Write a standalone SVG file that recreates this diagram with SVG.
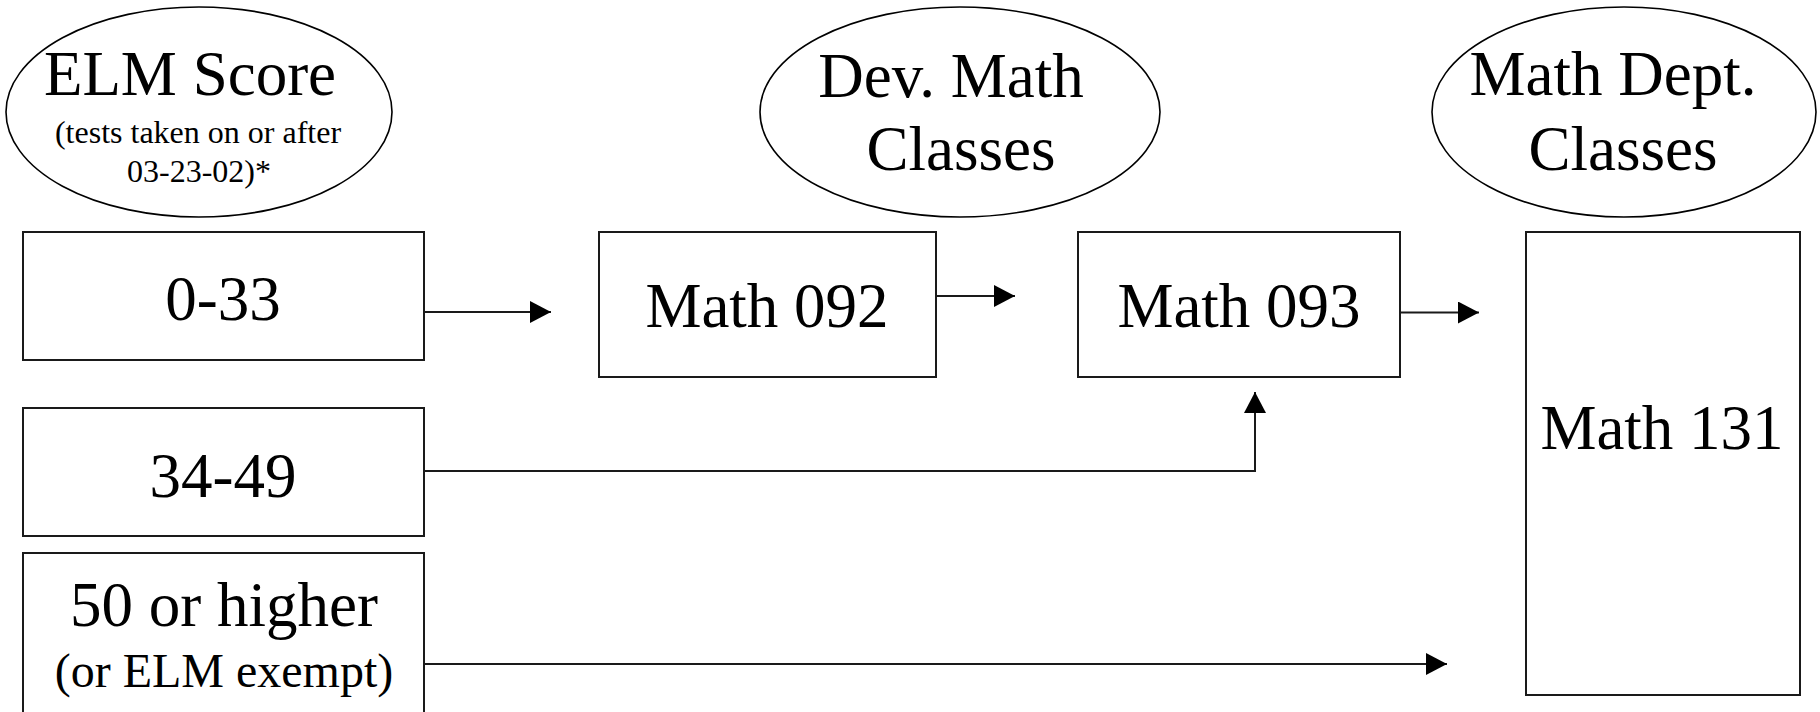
<svg xmlns="http://www.w3.org/2000/svg" width="1820" height="712" viewBox="0 0 1820 712">
<style>
.bg{fill:#fff}
.box{fill:#fff;stroke:#1a1a1a;stroke-width:2}
.ell{fill:#fff;stroke:#000;stroke-width:1.6}
.t{font-family:"Liberation Serif","Times New Roman",serif;fill:#000;text-anchor:middle}
.big{font-size:63px}
.small{font-size:32px}
.mid{font-size:48px}
.conn{fill:none;stroke:#1a1a1a;stroke-width:2}
</style>
<defs>
<marker id="arrow" markerUnits="userSpaceOnUse" viewBox="0 0 21 22" markerWidth="21" markerHeight="22" refX="21" refY="11" orient="auto">
<path d="M0,0 L21,11 L0,22 z" fill="#000"/>
</marker>
</defs>
<rect class="bg" x="0" y="0" width="1820" height="712"/>

<g id="hdr-elm">
<ellipse class="ell" cx="199" cy="112" rx="193" ry="105"/>
<text class="t big" x="190" y="95">ELM Score</text>
<text class="t small" x="198" y="143">(tests taken on or after</text>
<text class="t small" x="199" y="182">03-23-02)*</text>
</g>

<g id="hdr-dev">
<ellipse class="ell" cx="960" cy="112" rx="200" ry="105"/>
<text class="t big" x="951" y="97">Dev. Math</text>
<text class="t big" x="961" y="170">Classes</text>
</g>

<g id="hdr-dept">
<ellipse class="ell" cx="1624" cy="112" rx="192" ry="105"/>
<text class="t big" x="1613" y="95">Math Dept.</text>
<text class="t big" x="1623" y="170">Classes</text>
</g>

<g id="score-0-33">
<rect class="box" x="23" y="232" width="401" height="128"/>
<text class="t big" x="223" y="320">0-33</text>
</g>

<g id="score-34-49">
<rect class="box" x="23" y="408" width="401" height="128"/>
<text class="t big" x="223" y="497">34-49</text>
</g>

<g id="score-50">
<rect class="box" x="23" y="553" width="401" height="162"/>
<text class="t big" x="224" y="626">50 or higher</text>
<text class="t mid" x="224" y="687">(or ELM exempt)</text>
</g>

<g id="math-092">
<rect class="box" x="599" y="232" width="337" height="145"/>
<text class="t big" x="767" y="327">Math 092</text>
</g>

<g id="math-093">
<rect class="box" x="1078" y="232" width="322" height="145"/>
<text class="t big" x="1239" y="327">Math 093</text>
</g>

<g id="math-131">
<rect class="box" x="1526" y="232" width="274" height="463"/>
<text class="t big" x="1662" y="449">Math 131</text>
</g>

<g id="connectors">
<path class="conn" d="M424,312 H551" marker-end="url(#arrow)"/>
<path class="conn" d="M936,296 H1015" marker-end="url(#arrow)"/>
<path class="conn" d="M1400,312.5 H1479" marker-end="url(#arrow)"/>
<path class="conn" d="M424,471 H1255 V392" marker-end="url(#arrow)"/>
<path class="conn" d="M424,664 H1447" marker-end="url(#arrow)"/>
</g>
</svg>
